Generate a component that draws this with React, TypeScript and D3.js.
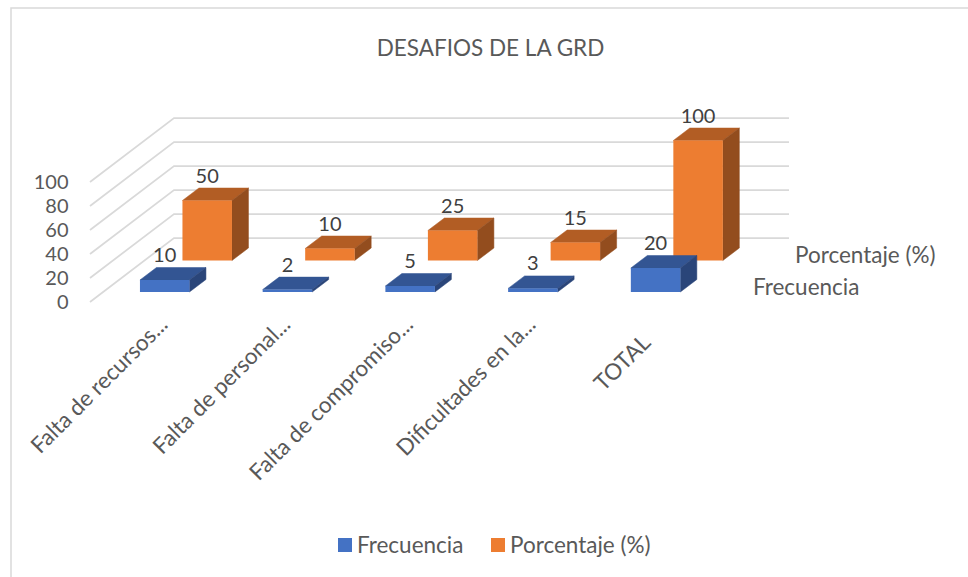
import React from "react";
import * as d3 from "d3";

const title = "DESAFIOS DE LA GRD";
const categories = ["Falta de recursos...", "Falta de personal...", "Falta de compromiso...", "Dificultades en la...", "TOTAL"];
const frecuencia = [10, 2, 5, 3, 20];
const porcentaje = [50, 10, 25, 15, 100];
const yTicks = [0, 20, 40, 60, 80, 100];
const seriesNames = ["Frecuencia", "Porcentaje (%)"];

const FONT = "Lato, 'Open Sans', sans-serif";
const TEXT = "#595959";
const GRID = "#d9d9d9";
const blue = { front: "#4472c4", top: "#335593", side: "#2a4579" };
const orange = { front: "#ed7d31", top: "#b25d24", side: "#934d1e" };

const x = d3.scaleBand<string>().domain(categories).range([135.1, 748.7]).paddingInner(0).paddingOuter(0);
const y = d3.scaleLinear().domain([0, 100]).range([0, 120]);
const BAR_W = 49.5;
const DX = 16.5;
const DY = 12.5;
const line = d3.line<[number, number]>();

function Bar({ x0, base, value, c }: { x0: number; base: number; value: number; c: typeof blue }) {
  const h = y(value);
  const t = base - h;
  const x1 = x0 + BAR_W;
  return (
    <g>
      <path d={line([[x0, t], [x0 + DX, t - DY], [x1 + DX, t - DY], [x1, t]]) + "Z"} fill={c.top} stroke={c.top} strokeWidth={0.5} />
      <path d={line([[x1, t], [x1 + DX, t - DY], [x1 + DX, base - DY], [x1, base]]) + "Z"} fill={c.side} stroke={c.side} strokeWidth={0.5} />
      <rect x={x0} y={t} width={BAR_W} height={h} fill={c.front} />
    </g>
  );
}

export default function App() {
  const step = x.step();
  const start = (c: string) => x(c)! + (step - 113) / 2;
  return (
    <svg width={968} height={577} style={{ position: "absolute", left: 0, top: 0, background: "#fff" }} fontFamily={FONT}>
      <rect x={11} y={8} width={970} height={580} fill="#fff" stroke={GRID} strokeWidth={1.5} />
      <text x={490.5} y={56} textAnchor="middle" fontSize={22.5} fill={TEXT}>{title}</text>

      {yTicks.map((t) => {
        const h = y(t);
        return (
          <g key={t}>
            <path d={line([[90, 302 - h], [174, 238 - h], [789, 238 - h]])!} fill="none" stroke={GRID} strokeWidth={1.75} />
            <text x={68.5} y={302 - h + 7} textAnchor="end" fontSize={20} fill={TEXT}>{t}</text>
          </g>
        );
      })}

      {categories.map((c, i) => (
        <g key={c}>
          <Bar x0={start(c) + 42.5} base={260.5} value={porcentaje[i]} c={orange} />
          <text x={start(c) + 42.5 + BAR_W / 2} y={260.5 - y(porcentaje[i]) - 18} textAnchor="middle" fontSize={20} fill="#404040">{porcentaje[i]}</text>
        </g>
      ))}
      {categories.map((c, i) => (
        <g key={c}>
          <Bar x0={start(c)} base={292} value={frecuencia[i]} c={blue} />
          <text x={start(c) + BAR_W / 2} y={292 - y(frecuencia[i]) - 18} textAnchor="middle" fontSize={20} fill="#404040">{frecuencia[i]}</text>
        </g>
      ))}

      <text x={795} y={263} fontSize={22.5} fill={TEXT}>{seriesNames[1]}</text>
      <text x={753} y={294.5} fontSize={22.5} fill={TEXT}>{seriesNames[0]}</text>

      {categories.map((c, i) => {
        const last = i === categories.length - 1;
        return (
          <text key={c} transform={`translate(${start(c) + (last ? 21 : 29)},${last ? 344 : 326}) rotate(-45)`} textAnchor="end" fontSize={22.5} fill={TEXT}>{c}</text>
        );
      })}

      <rect x={338} y={538} width={14} height={14} fill={blue.front} />
      <text x={357} y={553} fontSize={22.5} fill={TEXT}>{seriesNames[0]}</text>
      <rect x={491} y={538} width={14} height={14} fill={orange.front} />
      <text x={510} y={553} fontSize={22.5} fill={TEXT}>{seriesNames[1]}</text>
    </svg>
  );
}
